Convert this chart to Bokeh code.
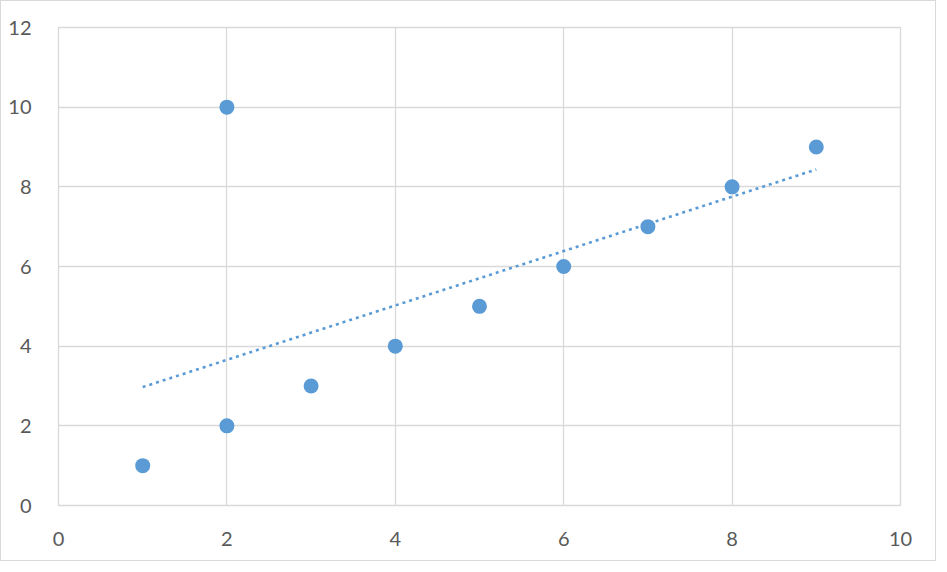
import numpy as np
from bokeh.plotting import figure
from bokeh.models import Range1d, FixedTicker
from bokeh.embed import file_html
from bokeh.resources import INLINE

x_vals = [1, 2, 2, 3, 4, 5, 6, 7, 8, 9]
y_vals = [1, 2, 10, 3, 4, 5, 6, 7, 8, 9]
x_ticks = [0, 2, 4, 6, 8, 10]
y_ticks = [0, 2, 4, 6, 8, 10, 12]

# linear trendline fitted to the data
slope, intercept = np.polyfit(x_vals, y_vals, 1)
tx = [min(x_vals), max(x_vals)]
ty = [slope * v + intercept for v in tx]

BLUE = "#5B9BD5"
GRID = "#D9D9D9"
TXT = "#595959"

p = figure(width=936, height=561, output_backend="svg", toolbar_location=None,
           x_range=Range1d(0, 10), y_range=Range1d(0, 12),
           min_border_left=57, min_border_right=37, min_border_top=26, min_border_bottom=57,
           styles={"border": "1px solid #D9D9D9", "box-sizing": "border-box"})

p.outline_line_color = GRID
p.outline_line_width = 1.3

for ax, ticks in ((p.xaxis, x_ticks), (p.yaxis, y_ticks)):
    ax.ticker = FixedTicker(ticks=ticks)
    ax.axis_line_color = None
    ax.major_tick_line_color = None
    ax.minor_tick_line_color = None
    ax.major_label_text_color = TXT
    ax.major_label_text_font = "Lato"
    ax.major_label_text_font_size = "20px"

p.xaxis.major_label_standoff = 20
p.yaxis.major_label_standoff = 21

p.xgrid.ticker = FixedTicker(ticks=x_ticks)
p.ygrid.ticker = FixedTicker(ticks=y_ticks)
p.grid.grid_line_color = GRID
p.grid.grid_line_width = 1.3

p.line(tx, ty, line_color=BLUE, line_width=2.6, line_dash="3 4")
p.scatter(x_vals, y_vals, size=15, fill_color=BLUE, line_color=BLUE, line_width=0)

open("out.html", "w").write(file_html(p, INLINE))
